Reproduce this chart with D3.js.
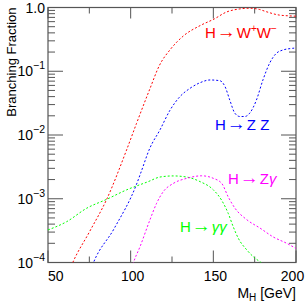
<!DOCTYPE html>
<html>
<head>
<meta charset="utf-8">
<script src="https://cdn.jsdelivr.net/npm/d3@7"></script>
<style>
  html, body { margin: 0; padding: 0; background: #fff; }
  svg { display: block; }
  text { font-family: "Liberation Sans", Arial, Helvetica, sans-serif; }
</style>
</head>
<body>
<div id="chart"></div>
<script>
// ---- data ----
const massWW = [64, 65, 75, 85.5, 97.5, 103.5, 111.5, 117.5, 124, 132, 142, 150.5, 158, 166, 172, 178, 182, 190, 198, 200];
const brWW   = [8.7e-5, 1.0e-4, 3.0e-4, 9.8e-4, 5.8e-3, 0.0151, 0.052, 0.125, 0.22, 0.36, 0.52, 0.66, 0.85, 0.95, 0.975, 0.93, 0.86, 0.76, 0.735, 0.73];

const massZZ = [76, 77.4, 90, 103.6, 106, 111.7, 117.7, 123.8, 129.8, 135.9, 141.9, 148, 154, 157, 160, 163, 166, 169, 172, 176, 180, 184, 188, 192, 198, 200];
const brZZ   = [7.9e-5, 9.8e-5, 3.4e-4, 1.7e-3, 2.5e-3, 6.3e-3, 0.012, 0.0245, 0.040, 0.054, 0.066, 0.073, 0.071, 0.058, 0.035, 0.022, 0.0195, 0.0195, 0.022, 0.035, 0.073, 0.133, 0.19, 0.215, 0.229, 0.232];

const massGG = [50, 61.3, 73.4, 85.5, 97.6, 110.7, 117.7, 125.8, 133.9, 141.9, 150, 155, 159, 162.1, 165.1, 170.2, 174.2, 179.2, 181];
const brGG   = [3.24e-4, 4.37e-4, 7.1e-4, 9.8e-4, 1.38e-3, 1.86e-3, 2.19e-3, 2.28e-3, 2.19e-3, 1.86e-3, 1.38e-3, 9.5e-4, 5.9e-4, 3.6e-4, 2.4e-4, 1.58e-4, 1.23e-4, 9.8e-5, 8.9e-5];

const massZG = [100, 101.6, 105.7, 111.7, 115.7, 119.7, 125.8, 133.9, 143, 150, 155.1, 159, 163.1, 170.2, 178.2, 186.3, 194.4, 200];
const brZG   = [7.1e-5, 9.8e-5, 1.78e-4, 4.7e-4, 8.5e-4, 1.29e-3, 1.74e-3, 2.09e-3, 2.29e-3, 2.09e-3, 1.74e-3, 1.07e-3, 7.1e-4, 4.7e-4, 3.47e-4, 2.51e-4, 2.0e-4, 1.66e-4];

const xMajorTicks = [50, 100, 150, 200];
const xMinorTicks = [75, 125, 175];
const yDomain = [1e-4, 1];
const xDomain = [50, 200];
const xTitle = "M";
const xTitleSub = "H";
const xTitleUnit = " [GeV]";
const yTitle = "Branching Fraction";

// ---- layout ----
const W = 305, H = 306;
const L = 48, R = 296, T = 7.5, B = 262.5;

const svg = d3.select("#chart").append("svg").attr("width", W).attr("height", H);

const x = d3.scaleLinear().domain(xDomain).range([L, R]);
const y = d3.scaleLog().domain(yDomain).range([B, T]);

const axisColor = "#555";

svg.append("defs").append("clipPath").attr("id", "clip")
  .append("rect").attr("x", L).attr("y", T).attr("width", R - L).attr("height", B - T);

// frame
svg.append("rect").attr("x", L).attr("y", T).attr("width", R - L).attr("height", B - T)
  .attr("fill", "none").attr("stroke", axisColor).attr("stroke-width", 1.2);

// x ticks bottom & top
const gx = svg.append("g");
xMajorTicks.forEach(v => {
  gx.append("line").attr("x1", x(v)).attr("x2", x(v)).attr("y1", B).attr("y2", B - 12).attr("stroke", axisColor);
  gx.append("line").attr("x1", x(v)).attr("x2", x(v)).attr("y1", T).attr("y2", T + 11).attr("stroke", axisColor);
});
xMinorTicks.forEach(v => {
  gx.append("line").attr("x1", x(v)).attr("x2", x(v)).attr("y1", B).attr("y2", B - 6).attr("stroke", axisColor);
  gx.append("line").attr("x1", x(v)).attr("x2", x(v)).attr("y1", T).attr("y2", T + 6).attr("stroke", axisColor);
});
xMajorTicks.forEach((v, i) => {
  gx.append("text").attr("x", x(v) + (i === 0 ? 0 : (i === xMajorTicks.length - 1 ? -3.5 : 2)))
    .attr("y", 281).attr("text-anchor", i === 0 ? "start" : "middle")
    .attr("font-size", 14).attr("fill", "#000").text(v);
});

// y ticks left & right
const gy = svg.append("g");
const yTicks = y.ticks();
yTicks.forEach(v => {
  const lg = Math.log10(v);
  const major = Math.abs(lg - Math.round(lg)) < 1e-9;
  const len = major ? 15 : 7;
  gy.append("line").attr("x1", L).attr("x2", L + len).attr("y1", y(v)).attr("y2", y(v)).attr("stroke", axisColor);
  gy.append("line").attr("x1", R).attr("x2", R - len).attr("y1", y(v)).attr("y2", y(v)).attr("stroke", axisColor);
  if (major) {
    const t = gy.append("text").attr("x", 45).attr("y", y(v) + 5).attr("text-anchor", "end")
      .attr("font-size", 14).attr("fill", "#000");
    if (lg === 0) {
      t.text("1.0");
    } else {
      t.append("tspan").text("10");
      t.append("tspan").attr("dy", -7).attr("font-size", 10.5).text("\u2212" + Math.abs(Math.round(lg)));
    }
  }
});

// axis titles
svg.append("text").attr("transform", `translate(16,${T}) rotate(-90)`)
  .attr("text-anchor", "end").attr("font-size", 13).attr("fill", "#000").text(yTitle);

const xt = svg.append("text").attr("x", R).attr("y", 297.5).attr("text-anchor", "end")
  .attr("font-size", 14).attr("fill", "#000");
xt.append("tspan").text(xTitle);
xt.append("tspan").attr("font-size", 10).attr("dy", 3.5).text(xTitleSub);
xt.append("tspan").attr("dy", -3.5).text(xTitleUnit);

// curves
const line = d3.line().x(d => x(d[0])).y(d => y(d[1])).curve(d3.curveMonotoneX);
const series = [
  { m: massWW, v: brWW, c: "#ff0000" },
  { m: massZZ, v: brZZ, c: "#0000ff" },
  { m: massGG, v: brGG, c: "#00ff00" },
  { m: massZG, v: brZG, c: "#ff00ff" }
];
const gc = svg.append("g").attr("clip-path", "url(#clip)");
series.forEach(s => {
  gc.append("path").datum(d3.zip(s.m, s.v)).attr("d", line)
    .attr("fill", "none").attr("stroke", s.c).attr("stroke-width", 1)
    .attr("stroke-dasharray", "2,2");
});

// labels
function label(xp, yp, color, parts) {
  const t = svg.append("text").attr("x", xp).attr("y", yp).attr("font-size", 15).attr("fill", color);
  parts.forEach(p => {
    const ts = t.append("tspan").text(p.t);
    if (p.dy) ts.attr("dy", p.dy);
    if (p.dx) ts.attr("dx", p.dx);
    if (p.fs) ts.attr("font-size", p.fs);
    if (p.it) ts.attr("font-style", "italic");
  });
}
const arrow = { t: "\u2192", fs: 19, dx: 1 };
label(205, 38, "#ff0000", [{ t: "H" }, arrow, { t: "W", dx: 1 }, { t: "+", fs: 10, dy: -6 }, { t: "W", dy: 6 }, { t: "\u2212", fs: 10, dy: -6 }]);
label(215, 130, "#0000ff", [{ t: "H" }, arrow, { t: "Z Z", dx: 1 }]);
label(228, 184, "#ff00ff", [{ t: "H" }, arrow, { t: "Z", dx: 1 }, { t: "\u03b3", it: true }]);
label(180, 232, "#00ff00", [{ t: "H" }, arrow, { t: "\u03b3\u03b3", it: true, dx: 1 }]);
</script>
</body>
</html>
